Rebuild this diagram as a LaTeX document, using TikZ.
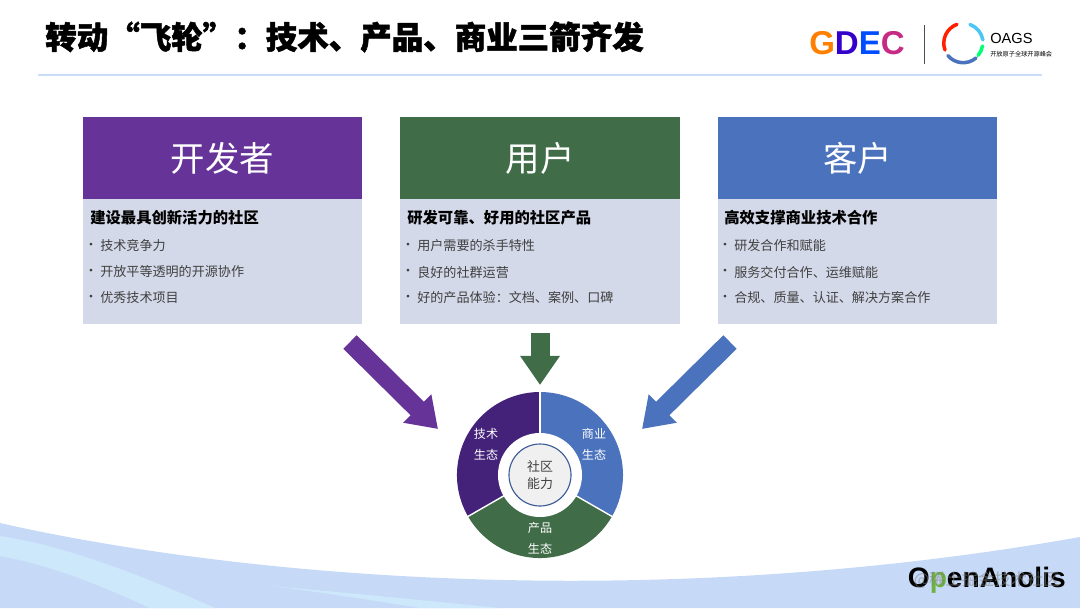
\documentclass[tikz,border=0pt]{standalone}
\usepackage{fontspec}
\setmainfont{Noto Sans CJK SC}
\newfontfamily\latinfont{Liberation Sans}
\newfontfamily\titlefont[BoldFeatures={FakeBold=1.6}]{Noto Sans CJK SC}
\usetikzlibrary{arrows.meta, positioning, calc}
\definecolor{devPurple}{HTML}{663399}
\definecolor{darkPurple}{HTML}{44227A}
\definecolor{userGreen}{HTML}{406C47}
\definecolor{custBlue}{HTML}{4B72BD}
\definecolor{cardBody}{HTML}{D4D9E9}
\definecolor{ruleBlue}{HTML}{CADDF8}
\definecolor{waveBlue}{HTML}{C6DAF7}
\definecolor{waveLight}{HTML}{CDE8FB}
\definecolor{anolisGreen}{HTML}{6DB33F}

\begin{document}
\begin{tikzpicture}[x=0.025cm, y=-0.025cm, >=Stealth,
    head/.style={minimum width=6.975cm, minimum height=2.05cm, inner sep=0pt, text=white, font=\fontsize{24.5}{28}\selectfont},
    card/.style={fill=cardBody, minimum width=6.975cm, minimum height=3.125cm, inner sep=0pt},
    subhead/.style={anchor=west, inner sep=0pt, font=\fontsize{10.9}{13}\selectfont\bfseries},
    item/.style={anchor=west, inner sep=0pt, text=black!75, font=\fontsize{9.3}{11}\selectfont},
    dot/.style={anchor=center, inner sep=0pt, text=black!75, font=\fontsize{9.2}{11}\selectfont},
    seglbl/.style={text=white, inner sep=0pt, font=\fontsize{8.6}{10}\selectfont},
    fat/.style={line width=0.475cm, -{Triangle[length=0.73cm, width=0.95cm]}},
    ringarc/.style={line width=2.5pt, line cap=round}]

  \useasboundingbox (0,0) rectangle (1080,608);

  % background wave
  \fill[waveBlue] (0,523) .. controls (230,575) and (640,615) .. (1080,537) -- (1080,608) -- (0,608) -- cycle;
  \fill[waveLight] (0,536) .. controls (60,545) and (130,570) .. (215,608) -- (150,608) .. controls (100,585) and (50,565) .. (0,556) -- cycle;
  \fill[waveLight] (270,586) .. controls (340,592) and (420,600) .. (500,608) -- (420,608) .. controls (370,600) and (320,592) .. (270,586) -- cycle;

  % title bar
  \node[anchor=west, inner sep=0pt, font=\titlefont\fontsize{22.4}{26}\selectfont\bfseries] (title) at (45,37)
    {转动“飞轮”：技术、产品、商业三箭齐发};
  \draw[ruleBlue, line width=1.5pt] (38,75) -- (1042,75);

  % cards
  \node[card] (c1) at (222.5,261.5) {};
  \node[card] (c2) at (540,261.5) {};
  \node[card] (c3) at (857.5,261.5) {};
  \node[head, fill=devPurple] (h1) at (222.5,158) {开发者};
  \node[head, fill=userGreen] (h2) at (540,158) {用户};
  \node[head, fill=custBlue]  (h3) at (857.5,158) {客户};

  \node[subhead] (s1) at (90,218)  {建设最具创新活力的社区};
  \node[subhead] (s2) at (407,218) {研发可靠、好用的社区产品};
  \node[subhead] (s3) at (724,218) {高效支撑商业技术合作};

  \foreach \n/\x/\a/\b/\c in {
    1/90/技术竞争力/开放平等透明的开源协作/优秀技术项目,
    2/407/用户需要的杀手特性/良好的社群运营/好的产品体验：文档、案例、口碑,
    3/724/研发合作和赋能/服务交付合作、运维赋能/合规、质量、认证、解决方案合作} {
    \node[dot] (d\n a) at (\x+1,246) {\textbullet};
    \node[dot] (d\n b) at (\x+1,272) {\textbullet};
    \node[dot] (d\n c) at (\x+1,298) {\textbullet};
    \node[item] (i\n a) at (\x+10,246) {\a};
    \node[item] (i\n b) at (\x+10,272) {\b};
    \node[item] (i\n c) at (\x+10,298) {\c};
  }

  % arrows to the ring
  \coordinate (a1) at (350,342);
  \coordinate (t1) at (438,429);
  \coordinate (a2) at (540,333);
  \coordinate (t2) at (540,385);
  \coordinate (a3) at (730,342);
  \coordinate (t3) at (642,429);
  \draw[fat, devPurple] (a1) -- (t1);
  \draw[fat, userGreen] (a2) -- (t2);
  \draw[fat, custBlue]  (a3) -- (t3);

  % ring
  \coordinate (o) at (540,475);
  \fill[custBlue]   (o) ++(0,-83) arc[start angle=90, end angle=-30, radius=2.075cm] -- (o) -- cycle;
  \fill[userGreen]  (o) ++(71.9,41.5) arc[start angle=-30, end angle=-150, radius=2.075cm] -- (o) -- cycle;
  \fill[darkPurple] (o) ++(-71.9,41.5) arc[start angle=-150, end angle=-270, radius=2.075cm] -- (o) -- cycle;
  \foreach \dx/\dy in {0/-84,73/42,-73/42} {
    \draw[white, line width=1pt] (o) -- ++(\dx,\dy);
  }
  \node[circle, fill=white, minimum size=2.1cm, inner sep=0pt] (hole) at (o) {};
  \node[circle, draw=custBlue!80!black, fill=black!6, thick, minimum size=1.55cm, inner sep=0pt, align=center,
        text=black!75, font=\fontsize{9.2}{12}\selectfont] (core) at (o) {社区\\能力};

  \node[seglbl] (t1a) at (486,434) {技术};
  \node[seglbl] (t1b) at (486,455) {生态};
  \node[seglbl] (t2a) at (594,434) {商业};
  \node[seglbl] (t2b) at (594,455) {生态};
  \node[seglbl] (t3a) at (540,528) {产品};
  \node[seglbl] (t3b) at (540,549) {生态};

  % logos
  \node[inner sep=0pt, font=\latinfont\fontsize{23.5}{28}\selectfont\bfseries] (gdec) at (857,43)
    {\textcolor{orange}{G}\textcolor{blue!60!violet}{D}\textcolor{blue!70!cyan}{E}\textcolor{magenta!60!violet}{C}};
  \draw[black!70, line width=0.6pt] (924,25) -- (924,64);
  \draw[ringarc, custBlue] (963,43) ++(13,15) arc[start angle=-50, end angle=-140, radius=0.5cm];
  \draw[ringarc, red!75!orange] (963,43) ++(-18,7) arc[start angle=-160, end angle=-250, radius=0.5cm];
  \draw[ringarc, cyan!70] (963,43) ++(7,-18.5) arc[start angle=70, end angle=10, radius=0.5cm];
  \draw[ringarc, green!55!cyan] (963,43) ++(19.5,3) arc[start angle=-10, end angle=-40, radius=0.5cm];
  \node[anchor=west, inner sep=0pt, font=\latinfont\fontsize{10.4}{12}\selectfont] (oags) at (990,38) {OAGS};
  \node[anchor=west, inner sep=0pt, font=\fontsize{4.4}{5}\selectfont] (oagsub) at (990,54) {开放原子全球开源峰会};

  % footer
  \node[anchor=east, inner sep=0pt, font=\latinfont\fontsize{20}{22}\selectfont\bfseries] (anolis) at (1066,580)
    {O\textcolor{anolisGreen}{p}enAnolis};
  \node[anchor=east, inner sep=0pt, text=gray, opacity=0.55, font=\fontsize{11.6}{13}\selectfont] (mark) at (1060,580) {@稀土掘金技术社区};
\end{tikzpicture}
\end{document}
